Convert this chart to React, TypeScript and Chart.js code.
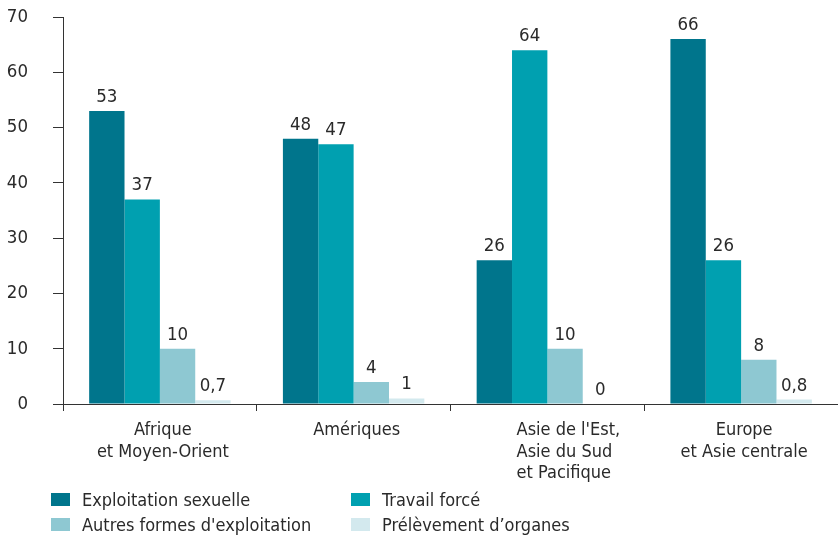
import React, { useEffect, useRef } from "react";
import { Chart, registerables } from "chart.js";

Chart.register(...registerables);

const categories: string[][] = [
  ["Afrique", "et Moyen-Orient"],
  ["Amériques"],
  ["Asie de l'Est,", "Asie du Sud", "et Pacifique"],
  ["Europe", "et Asie centrale"],
];
const categoryAlign: string[] = ["center", "center", "left", "center"];

const seriesNames = [
  "Exploitation sexuelle",
  "Travail forcé",
  "Autres formes d'exploitation",
  "Prélèvement d’organes",
];
const sexuelle = [53, 48, 26, 66];
const travail = [37, 47, 64, 26];
const autres = [10, 4, 10, 8];
const organes = [0.7, 1, 0, 0.8];
const colors = ["#00758c", "#00a0b0", "#8ec8d2", "#d3e9ee"];
const yTicks = [0, 10, 20, 30, 40, 50, 60, 70];

const FONT = "'DejaVu Sans Condensed', 'DejaVu Sans', sans-serif";
const TEXT = "#2a2a2a";

const fmt = (v: number) => String(v).replace(".", ",");

const labelsPlugin = {
  id: "valueLabels",
  afterDatasetsDraw(chart: any) {
    const ctx = chart.ctx;
    ctx.save();
    ctx.font = `18.5px ${FONT}`;
    ctx.fillStyle = TEXT;
    ctx.textAlign = "center";
    ctx.textBaseline = "alphabetic";
    chart.data.datasets.forEach((ds: any, i: number) => {
      const meta = chart.getDatasetMeta(i);
      meta.data.forEach((bar: any, j: number) => {
        ctx.fillText(fmt(ds.data[j]), bar.x, bar.y - 9);
      });
    });
    ctx.font = `18px ${FONT}`;
    const xs = chart.scales.x;
    const lh = 21.5;
    categories.forEach((lines, j) => {
      const cx = xs.getPixelForValue(j);
      const w = Math.max(...lines.map((l) => ctx.measureText(l).width));
      lines.forEach((l, k) => {
        const y = xs.top + 31 + k * lh;
        if (categoryAlign[j] === "left") {
          ctx.textAlign = "left";
          ctx.fillText(l, cx - w / 2 + 21, y);
        } else {
          ctx.textAlign = "center";
          ctx.fillText(l, cx + 3, y);
        }
      });
    });
    ctx.restore();
  },
};

export default function App() {
  const ref = useRef<HTMLCanvasElement>(null);
  useEffect(() => {
    if (!ref.current) return;
    const data = [sexuelle, travail, autres, organes];
    const chart = new Chart(ref.current, {
      type: "bar",
      data: {
        labels: categories.map((c) => c.join(" ")),
        datasets: data.map((d, i) => ({
          label: seriesNames[i],
          data: d,
          backgroundColor: colors[i],
          borderWidth: 0,
          categoryPercentage: 0.73,
          barPercentage: 1,
        })),
      },
      options: {
        animation: false,
        responsive: false,
        devicePixelRatio: 1,
        layout: { padding: { top: 17, right: 0, left: 0, bottom: 0 } },
        plugins: { legend: { display: false }, tooltip: { enabled: false } },
        scales: {
          x: {
            afterFit: (s: any) => {
              s.height = 132;
              s.paddingTop = 0;
              s.paddingBottom = 0;
            },
            grid: {
              display: true,
              drawOnChartArea: false,
              drawTicks: true,
              tickLength: 7,
              color: "#333",
              offset: true,
            },
            border: { display: true, color: "#333", width: 1 },
            ticks: { display: false },
          },
          y: {
            min: 0,
            max: 70,
            afterFit: (s: any) => {
              s.width = 63;
              s.paddingTop = 0;
              s.paddingBottom = 0;
            },
            afterBuildTicks: (s: any) => {
              s.ticks = yTicks.map((v) => ({ value: v }));
            },
            grid: {
              drawOnChartArea: false,
              drawTicks: true,
              tickLength: 10,
              color: "#333",
            },
            border: { display: true, color: "#333", width: 1 },
            ticks: {
              padding: 25,
              color: TEXT,
              font: { family: FONT, size: 18.5 },
            },
          },
        },
      },
      plugins: [labelsPlugin],
    });
    return () => chart.destroy();
  }, []);

  const legendPos = [
    { x: 51, y: 493 },
    { x: 351, y: 493 },
    { x: 51, y: 518 },
    { x: 351, y: 518 },
  ];

  return (
    <div style={{ position: "fixed", left: 0, top: 0, width: 838, height: 536, background: "#fff" }}>
      <canvas ref={ref} width={838} height={536} style={{ position: "absolute", left: 0, top: 0 }} />
      {seriesNames.map((n, i) => (
        <div key={n} style={{ position: "absolute", left: legendPos[i].x, top: legendPos[i].y, height: 13, display: "flex", alignItems: "center", fontFamily: FONT, fontSize: 18, color: TEXT, whiteSpace: "nowrap" }}>
          <span style={{ display: "inline-block", width: 19, height: 13, background: colors[i], marginRight: 12 }} />
          <span>{n}</span>
        </div>
      ))}
    </div>
  );
}
